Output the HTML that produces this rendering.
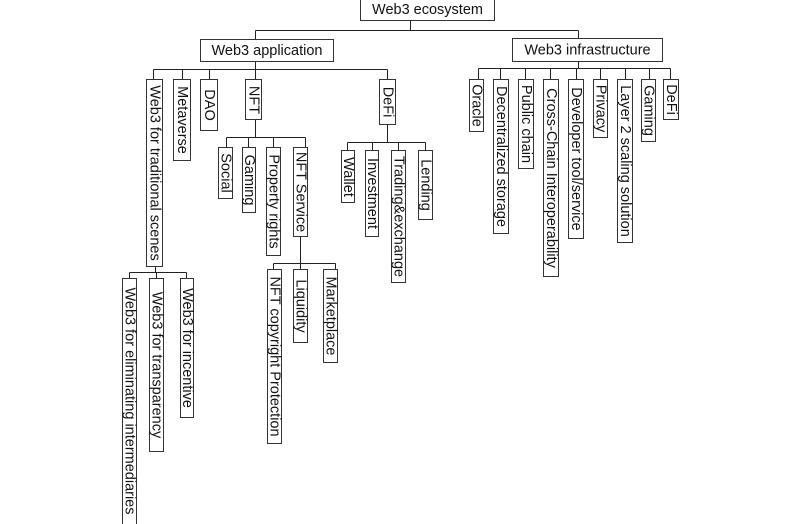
<!DOCTYPE html>
<html>
<head>
<meta charset="utf-8">
<style>
html,body{margin:0;padding:0;background:#fff;}
svg{display:block;}
text{font-family:"Liberation Sans",Arial,sans-serif;font-size:14.5px;fill:#111;}
.b{fill:#fff;stroke:#333;stroke-width:1;}
.l{stroke:#222;stroke-width:1;fill:none;}
</style>
</head>
<body>
<svg width="800" height="524" viewBox="0 0 800 524" xmlns="http://www.w3.org/2000/svg">
<!-- connectors -->
<g class="l">
  <path d="M410.5 21V30.5M255.5 30.5H578.5M255.5 30.5V39M578.5 30.5V38"/>
  <path d="M255.5 62V69.5M153.5 69.5H387.5M153.5 69.5V79M182.5 69.5V79M209.5 69.5V79M255.5 69.5V79M387.5 69.5V79"/>
  <path d="M155.5 267V272.5M129.5 272.5H186.5M129.5 272.5V278M156.5 272.5V278M186.5 272.5V278"/>
  <path d="M255.5 120V137.5M226.5 137.5H305.5M226.5 137.5V147M248.5 137.5V147M273.5 137.5V147M305.5 137.5V147"/>
  <path d="M300.5 237V263.5M273.5 263.5H335.5M273.5 263.5V269M300.5 263.5V269M335.5 263.5V269"/>
  <path d="M387.5 125V142.5M347.5 142.5H425.5M347.5 142.5V150M372.5 142.5V150M398.5 142.5V150M425.5 142.5V150"/>
  <path d="M578.5 62V68.5M478.5 68.5H670.5M478.5 68.5V79M500.5 68.5V79M525.5 68.5V79M550.5 68.5V79M576.5 68.5V79M600.5 68.5V79M625.5 68.5V79M649.5 68.5V79M670.5 68.5V79"/>
</g>

<!-- horizontal boxes -->
<rect class="b" x="360.5" y="-1.5" width="134" height="22"/>
<text x="427.5" y="10" text-anchor="middle" dominant-baseline="central">Web3 ecosystem</text>
<rect class="b" x="200.5" y="39.5" width="133" height="22"/>
<text x="267" y="51" text-anchor="middle" dominant-baseline="central">Web3 application</text>
<rect class="b" x="512.5" y="38.5" width="150" height="23"/>
<text x="587.5" y="50.5" text-anchor="middle" dominant-baseline="central">Web3 infrastructure</text>

<!-- vertical boxes -->
<g id="v">
<rect class="b" x="146.5" y="79.5" width="16" height="187"/>
<text transform="translate(154.5 173) rotate(90)" text-anchor="middle" dominant-baseline="central">Web3 for traditional scenes</text>
<rect class="b" x="173.5" y="79.5" width="17" height="81"/>
<text transform="translate(182 120) rotate(90)" text-anchor="middle" dominant-baseline="central">Metaverse</text>
<rect class="b" x="200.5" y="79.5" width="17" height="51"/>
<text transform="translate(209 105) rotate(90)" text-anchor="middle" dominant-baseline="central">DAO</text>
<rect class="b" x="245.5" y="79.5" width="16" height="40"/>
<text transform="translate(253.5 100) rotate(90)" text-anchor="middle" dominant-baseline="central">NFT</text>
<rect class="b" x="379.5" y="79.5" width="16" height="45"/>
<text transform="translate(387.5 102) rotate(90)" text-anchor="middle" dominant-baseline="central">DeFi</text>

<rect class="b" x="218.5" y="147.5" width="14" height="51"/>
<text transform="translate(225.5 173) rotate(90)" text-anchor="middle" dominant-baseline="central">Social</text>
<rect class="b" x="242.5" y="147.5" width="13" height="65"/>
<text transform="translate(249 180) rotate(90)" text-anchor="middle" dominant-baseline="central">Gaming</text>
<rect class="b" x="266.5" y="147.5" width="14" height="108"/>
<text transform="translate(273.5 201.5) rotate(90)" text-anchor="middle" dominant-baseline="central">Property rights</text>
<rect class="b" x="293.5" y="147.5" width="14" height="89"/>
<text transform="translate(300.5 192) rotate(90)" text-anchor="middle" dominant-baseline="central">NFT Service</text>

<rect class="b" x="267.5" y="269.5" width="14" height="174"/>
<text transform="translate(274.5 356.5) rotate(90)" text-anchor="middle" dominant-baseline="central">NFT copyright Protection</text>
<rect class="b" x="293.5" y="269.5" width="14" height="73"/>
<text transform="translate(300.5 306) rotate(90)" text-anchor="middle" dominant-baseline="central">Liquidity</text>
<rect class="b" x="323.5" y="269.5" width="14" height="93"/>
<text transform="translate(330.5 316) rotate(90)" text-anchor="middle" dominant-baseline="central">Marketplace</text>

<rect class="b" x="341.5" y="150.5" width="13" height="52"/>
<text transform="translate(348 177) rotate(90)" text-anchor="middle" dominant-baseline="central">Wallet</text>
<rect class="b" x="365.5" y="150.5" width="13" height="86"/>
<text transform="translate(372 193.5) rotate(90)" text-anchor="middle" dominant-baseline="central">Investment</text>
<rect class="b" x="391.5" y="150.5" width="14" height="132"/>
<text transform="translate(398.5 216.5) rotate(90)" text-anchor="middle" dominant-baseline="central">Trading&amp;exchange</text>
<rect class="b" x="418.5" y="150.5" width="14" height="69"/>
<text transform="translate(425.5 185) rotate(90)" text-anchor="middle" dominant-baseline="central">Lending</text>

<rect class="b" x="122.5" y="278.5" width="14" height="250"/>
<text transform="translate(129.5 401) rotate(90)" text-anchor="middle" dominant-baseline="central">Web3 for eliminating intermediaries</text>
<rect class="b" x="149.5" y="278.5" width="14" height="173"/>
<text transform="translate(156.5 365) rotate(90)" text-anchor="middle" dominant-baseline="central">Web3 for transparency</text>
<rect class="b" x="180.5" y="278.5" width="13" height="139"/>
<text transform="translate(187 348) rotate(90)" text-anchor="middle" dominant-baseline="central">Web3 for incentive</text>

<rect class="b" x="469.5" y="79.5" width="14" height="52"/>
<text transform="translate(476.5 105.5) rotate(90)" text-anchor="middle" dominant-baseline="central">Oracle</text>
<rect class="b" x="493.5" y="79.5" width="15" height="154"/>
<text transform="translate(501 156.5) rotate(90)" text-anchor="middle" dominant-baseline="central">Decentralized storage</text>
<rect class="b" x="518.5" y="79.5" width="15" height="89"/>
<text transform="translate(526 124) rotate(90)" text-anchor="middle" dominant-baseline="central">Public chain</text>
<rect class="b" x="543.5" y="79.5" width="15" height="197"/>
<text transform="translate(551 178) rotate(90)" text-anchor="middle" dominant-baseline="central">Cross-Chain Interoperability</text>
<rect class="b" x="568.5" y="79.5" width="15" height="159"/>
<text transform="translate(576 159) rotate(90)" text-anchor="middle" dominant-baseline="central">Developer tool/service</text>
<rect class="b" x="593.5" y="79.5" width="14" height="58"/>
<text transform="translate(600.5 108.5) rotate(90)" text-anchor="middle" dominant-baseline="central">Privacy</text>
<rect class="b" x="617.5" y="79.5" width="15" height="163"/>
<text transform="translate(625 161) rotate(90)" text-anchor="middle" dominant-baseline="central">Layer 2 scaling solution</text>
<rect class="b" x="641.5" y="79.5" width="14" height="62"/>
<text transform="translate(648.5 110.5) rotate(90)" text-anchor="middle" dominant-baseline="central">Gaming</text>
<rect class="b" x="663.5" y="79.5" width="15" height="40"/>
<text transform="translate(671 99.5) rotate(90)" text-anchor="middle" dominant-baseline="central">DeFi</text>
</g>
</svg>
</body>
</html>
